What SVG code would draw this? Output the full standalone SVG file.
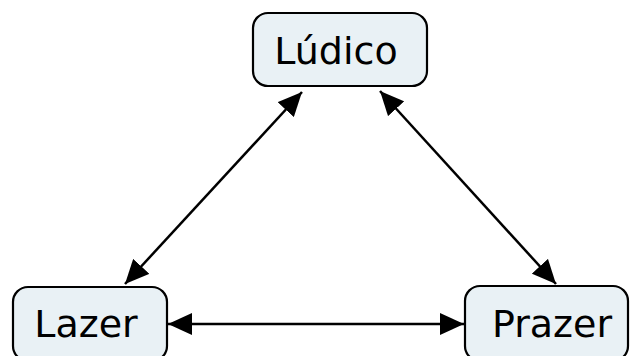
<svg xmlns="http://www.w3.org/2000/svg" width="633" height="356" viewBox="0 0 633 356">
<style>
.box{fill:#e9f1f5;stroke:#000;stroke-width:2.2}
.lbl{font-family:"DejaVu Sans",Verdana,sans-serif;font-size:38px;fill:#000;text-anchor:middle}
.con{stroke:#000;stroke-width:2.5;fill:none;marker-start:url(#ah);marker-end:url(#ah)}
</style>
<defs>
<marker id="ah" viewBox="0 0 24 22" refX="24" refY="11" markerWidth="24" markerHeight="22" markerUnits="userSpaceOnUse" orient="auto-start-reverse">
<path d="M0,0 L24,11 L0,22 z" fill="#000"/>
</marker>
</defs>
<rect width="633" height="356" fill="#fff"/>
<g id="connectors">
<line class="con" x1="302" y1="92" x2="125" y2="284"/>
<line class="con" x1="380" y1="91" x2="556" y2="284"/>
<line class="con" x1="168" y1="324" x2="464" y2="324"/>
</g>
<g id="ludico">
<rect class="box" x="253" y="13" width="174" height="73" rx="15"/>
<text class="lbl" x="336" y="64">Lúdico</text>
</g>
<g id="lazer">
<rect class="box" x="13" y="287" width="154" height="74" rx="15"/>
<text class="lbl" x="86" y="337">Lazer</text>
</g>
<g id="prazer">
<rect class="box" x="465" y="286" width="163" height="75" rx="15"/>
<text class="lbl" x="552" y="337">Prazer</text>
</g>
</svg>
